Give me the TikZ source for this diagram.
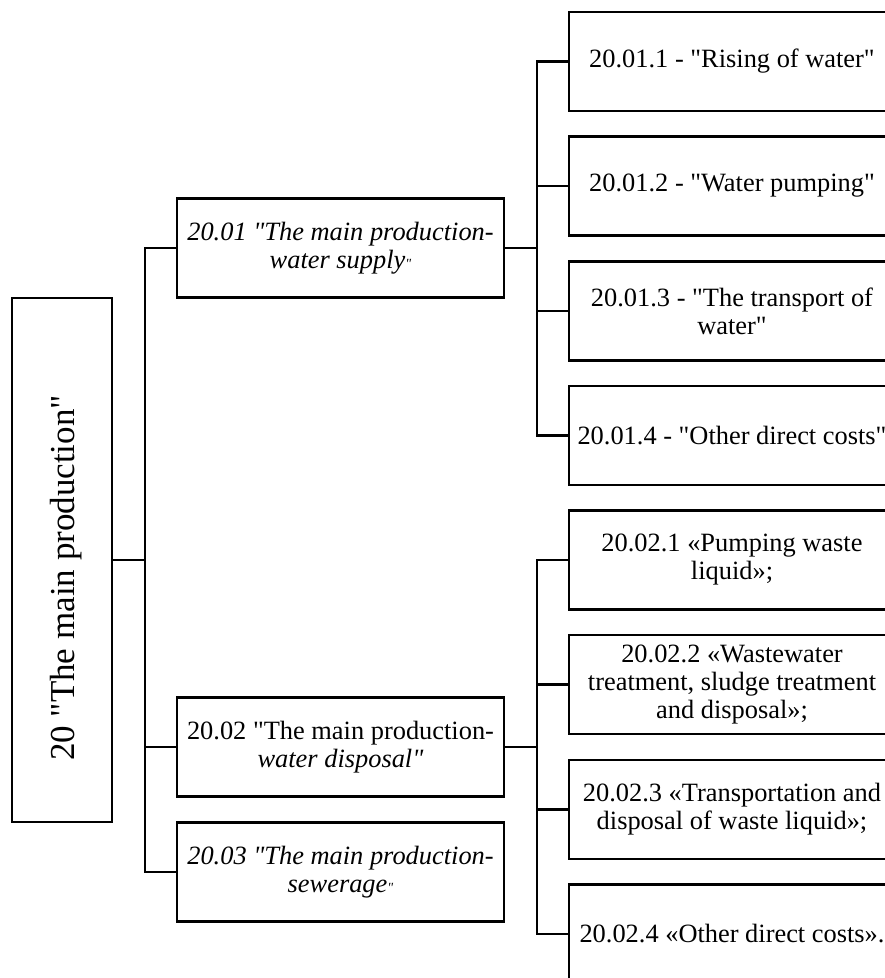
\documentclass[tikz,border=0pt]{standalone}
\usepackage{fontspec}
\setmainfont{Liberation Serif}[Ligatures=TeXOff]
\newcommand{\smallq}{{\fontsize{14}{14}\selectfont"}}
\begin{document}
\begin{tikzpicture}[x=1pt,y=-1pt,
  box/.style={draw,line width=2.3pt,inner sep=0pt,align=center,
    font=\fontsize{26.4}{28}\selectfont},
  leftbox/.style={box,minimum width=327pt,minimum height=99pt},
  rightbox/.style={box,minimum width=326pt,minimum height=99pt},
  link/.style={line width=2.4pt}]
\useasboundingbox (0,0) rectangle (885,978);
\clip (0,0) rectangle (885,978);

% root
\node[draw,line width=2.3pt,inner sep=0pt,minimum width=100pt,minimum height=524pt] (root) at (62,560) {};
\node[rotate=90,font=\fontsize{35}{38}\selectfont] (roottext) at (66,578) {20 "The main production"};

% second level
\node[leftbox] (l1) at (340.5,248) {\itshape 20.01 "The main production-\\ \itshape water supply\smallq};
\node[leftbox] (l2) at (340.5,747) {20.02 "The main production-\\ \itshape water disposal"};
\node[leftbox] (l3) at (340.5,872) {\itshape 20.03 "The main production-\\ \itshape sewerage\smallq};

% third level, water supply
\node[rightbox] (a1) at (732,61.5) {20.01.1 - "Rising of water"};
\node[rightbox] (a2) at (732,186) {20.01.2 - "Water pumping"};
\node[rightbox] (a3) at (732,311) {20.01.3 - "The transport of\\ water"};
\node[rightbox] (a4) at (732,435.5) {20.01.4 - "Other direct costs"};

% third level, water disposal
\node[rightbox] (b1) at (732,560) {20.02.1 «Pumping waste\\ liquid»;};
\node[rightbox] (b2) at (732,684.5) {20.02.2 «Wastewater\\ treatment, sludge treatment\\ and disposal»;};
\node[rightbox] (b3) at (732,809.5) {20.02.3 «Transportation and\\ disposal of waste liquid»;};
\node[rightbox] (b4) at (732,934) {20.02.4 «Other direct costs».};

% trunks
\coordinate (t0) at (145,0);
\coordinate (t1) at (537,0);

\draw[link] (root.east) -- (root.east -| t0);
\draw[link] (l1.west) -- (l1.west -| t0) -- (l3.west -| t0) -- (l3.west);
\draw[link] (l2.west) -- (l2.west -| t0);

\draw[link] (l1.east) -- (l1.east -| t1);
\draw[link] (a1.west) -- (a1.west -| t1) -- (a4.west -| t1) -- (a4.west);
\draw[link] (a2.west) -- (a2.west -| t1);
\draw[link] (a3.west) -- (a3.west -| t1);

\draw[link] (l2.east) -- (l2.east -| t1);
\draw[link] (b1.west) -- (b1.west -| t1) -- (b4.west -| t1) -- (b4.west);
\draw[link] (b2.west) -- (b2.west -| t1);
\draw[link] (b3.west) -- (b3.west -| t1);
\end{tikzpicture}
\end{document}
